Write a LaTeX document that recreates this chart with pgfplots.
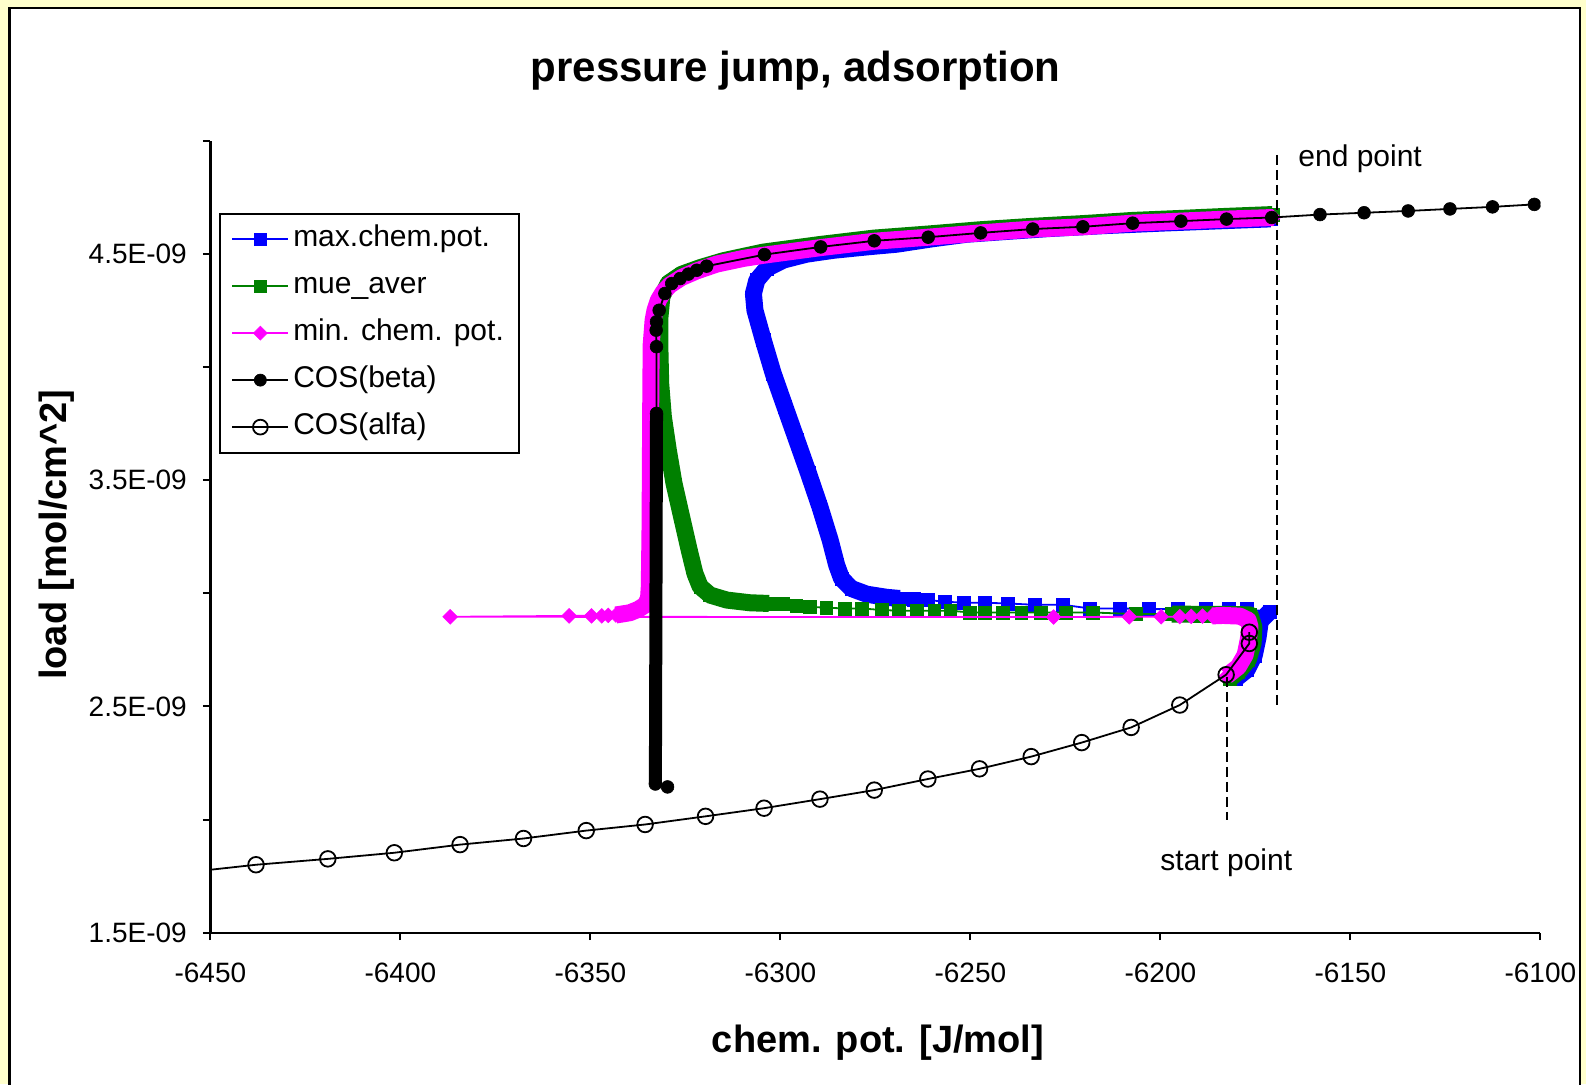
\documentclass[border=0pt]{standalone}
\usepackage{fontspec}
\setmainfont{Liberation Sans}
\usepackage{pgfplots}
\pgfplotsset{compat=1.18}
\definecolor{bgyellow}{HTML}{FFFFCC}
\definecolor{xlblue}{HTML}{0000FF}
\definecolor{xlgreen}{HTML}{008000}
\definecolor{xlmag}{HTML}{FF00FF}
\pgfplotsset{band/.style={line join=round, line cap=butt, forget plot}}
\begin{document}
\begin{tikzpicture}
\useasboundingbox (0,0) rectangle (793pt,-542pt);
\fill[bgyellow] (0,0) rectangle (793pt,-542pt);
\draw[line width=1.3pt, fill=white] (4.7pt,-3.9pt) rectangle (790pt,-560pt);
\begin{axis}[
  at={(105.2pt,-466.3pt)}, anchor=south west,
  scale only axis, width=665pt, height=395.9pt,
  xmin=-6450, xmax=-6100, ymin=1.5, ymax=5.0,
  axis lines*=left,
  axis line style={line width=1.1pt},
  tick align=outside,
  major tick length=3.8pt,
  tick style={line width=1pt, black},
  xtick={-6450,-6400,-6350,-6300,-6250,-6200,-6150,-6100},
  xticklabels={-6450,-6400,-6350,-6300,-6250,-6200,-6150,-6100},
  ytick={1.5,2.0,2.5,3.0,3.5,4.0,4.5,5.0},
  yticklabels={1.5E-09,,2.5E-09,,3.5E-09,,4.5E-09,},
  ticklabel style={font=\fontsize{14}{16}\selectfont, inner sep=0pt},
  xticklabel style={yshift=-11.2pt},
  yticklabel style={xshift=-7.8pt},
  clip=true, clip marker paths=true,
  legend style={
    at={(0.0068,0.9093)}, anchor=north west,
    draw=black, line width=1pt, fill=white,
    font=\fontsize{15}{18}\selectfont,
    inner xsep=5.5pt, inner ysep=1pt, row sep=0pt,
    nodes={inner xsep=2pt, inner ysep=4.5pt, text height=11pt, text depth=3.5pt},
  },
  legend cell align=left,
  legend image code/.code={\draw[mark repeat=2,mark phase=2,#1] plot coordinates {(0pt,0pt) (14pt,0pt) (28pt,0pt)};},
  legend image post style={every mark/.append style={scale=0.95}},
]
% ---------- max.chem.pot. (blue)
\addplot[xlblue, line width=8.5pt, band] coordinates {
(-6180.2,2.622) (-6177.2,2.662) (-6175.3,2.725) (-6174.3,2.805) (-6173.7,2.877) (-6171.3,2.918)};
\addplot[xlblue, line width=8.5pt, band] coordinates {
(-6268.6,2.977) (-6272.0,2.982) (-6277.3,2.996) (-6281.3,3.021) (-6283.9,3.065) (-6285.2,3.125)
(-6286.9,3.235) (-6289.6,3.382) (-6292.6,3.530) (-6295.7,3.677) (-6298.8,3.824) (-6301.9,3.972)
(-6304.5,4.119) (-6306.7,4.251) (-6307.1,4.325) (-6306.2,4.384) (-6303.6,4.436) (-6299.2,4.473)
(-6293.1,4.499) (-6286.1,4.516) (-6277.3,4.531) (-6269.4,4.543) (-6260,4.567) (-6251.0,4.587)
(-6240,4.600) (-6229.5,4.612) (-6215,4.625) (-6200,4.636) (-6185,4.646) (-6171,4.655)};
\addplot[xlblue, line width=0.9pt, mark=square*, mark size=3.3pt,
  mark options={solid, fill=xlblue, draw=xlblue, line width=0.3pt}] coordinates {
(-6180.2,2.622) (-6177.2,2.662) (-6175.3,2.725) (-6174.3,2.805) (-6173.7,2.877) (-6171.3,2.918)
(-6177.2,2.929) (-6182.1,2.929) (-6188.1,2.930) (-6195.4,2.930) (-6203.1,2.930) (-6210.6,2.933)
(-6218.5,2.933) (-6225.7,2.949) (-6233.0,2.949) (-6240.2,2.955) (-6246.2,2.958) (-6251.7,2.958)
(-6256.7,2.963) (-6261.3,2.970) (-6265.0,2.973) (-6268.6,2.977)
(-6272.0,2.982) (-6277.3,2.996) (-6281.3,3.021) (-6283.9,3.065) (-6285.2,3.125)
(-6286.9,3.235) (-6289.6,3.382) (-6292.6,3.530) (-6295.7,3.677) (-6298.8,3.824) (-6301.9,3.972)
(-6304.5,4.119) (-6306.7,4.251) (-6307.1,4.325) (-6306.2,4.384) (-6303.6,4.436) (-6299.2,4.473)
(-6293.1,4.499) (-6286.1,4.516) (-6277.3,4.531) (-6269.4,4.543) (-6260,4.567) (-6251.0,4.587)
(-6240,4.600) (-6229.5,4.612) (-6215,4.625) (-6200,4.636) (-6185,4.646) (-6171,4.655)};
\addlegendentry{max.chem.pot.}
% ---------- mue_aver (green)
\addplot[xlgreen, line width=8.5pt, band] coordinates {
(-6181.7,2.623) (-6179.5,2.652) (-6176.9,2.705) (-6175.6,2.779) (-6175.4,2.851) (-6176.4,2.904)
(-6180,2.906) (-6185,2.907) (-6190,2.907) (-6197,2.908)};
\addplot[xlgreen, line width=8.5pt, band] coordinates {
(-6303.0,2.955) (-6308.0,2.958) (-6314.1,2.970) (-6318.5,2.992) (-6321.1,3.029) (-6322.5,3.088)
(-6324.0,3.191) (-6326.0,3.338) (-6328.0,3.486) (-6329.5,3.633) (-6330.8,3.780) (-6331.5,3.927)
(-6331.7,4.075) (-6331.7,4.22) (-6331.2,4.31) (-6329.5,4.37) (-6326,4.41) (-6321,4.44)
(-6315,4.47) (-6304.5,4.508) (-6289.4,4.542) (-6275.3,4.570) (-6261.1,4.588) (-6247.3,4.607)
(-6233.6,4.622) (-6220.4,4.634) (-6207.3,4.648) (-6194.6,4.657) (-6182.6,4.666) (-6170.5,4.674)};
\addplot[xlgreen, line width=0.9pt, mark=square*, mark size=3.2pt,
  mark options={solid, fill=xlgreen, draw=xlgreen, line width=0.3pt}] coordinates {
(-6181.7,2.623) (-6179.5,2.652) (-6176.9,2.705) (-6175.6,2.779) (-6175.4,2.851) (-6176.4,2.904)
(-6180,2.906) (-6185,2.907) (-6190,2.907) (-6197,2.908) (-6206.4,2.908) (-6217.8,2.915)
(-6224.9,2.915) (-6231.4,2.915) (-6236.6,2.915) (-6241.4,2.915) (-6246.2,2.915) (-6250.1,2.915)
(-6255.3,2.923) (-6259.5,2.923) (-6264.2,2.923) (-6268.8,2.923) (-6273.4,2.926) (-6278.5,2.933)
(-6283.1,2.933) (-6287.9,2.936) (-6292.2,2.940) (-6295.8,2.943) (-6299.4,2.952) (-6303.0,2.955)
(-6308.0,2.958) (-6314.1,2.970) (-6318.5,2.992) (-6321.1,3.029) (-6322.5,3.088)
(-6324.0,3.191) (-6326.0,3.338) (-6328.0,3.486) (-6329.5,3.633) (-6330.8,3.780) (-6331.5,3.927)
(-6331.7,4.075) (-6331.7,4.22) (-6331.2,4.31) (-6329.5,4.37) (-6326,4.41) (-6321,4.44)
(-6315,4.47) (-6304.5,4.508) (-6289.4,4.542) (-6275.3,4.570) (-6261.1,4.588) (-6247.3,4.607)
(-6233.6,4.622) (-6220.4,4.634) (-6207.3,4.648) (-6194.6,4.657) (-6182.6,4.666) (-6170.5,4.674)};
\addlegendentry{mue\_aver}
% ---------- min. chem. pot. (magenta)
\addplot[xlmag, line width=8.5pt, band] coordinates {
(-6182.6,2.634) (-6179.5,2.675) (-6177.7,2.727) (-6176.9,2.793) (-6176.4,2.851) (-6176.9,2.881)
(-6179.1,2.899) (-6183.5,2.902) (-6186.4,2.900)};
\addplot[xlmag, line width=8.5pt, band] coordinates {
(-6343.3,2.904) (-6341.8,2.908) (-6339.6,2.914) (-6337.4,2.929) (-6335.6,2.948) (-6334.7,2.977)
(-6334.5,3.029) (-6334.3,3.3) (-6334.2,3.6) (-6334.1,3.9) (-6334.0,4.10) (-6333.5,4.207)
(-6333.0,4.251) (-6332.1,4.296) (-6330.8,4.332) (-6329.1,4.362) (-6326.0,4.396) (-6322.0,4.425)
(-6316.8,4.455) (-6309.8,4.480) (-6304.5,4.494) (-6289.4,4.528) (-6275.3,4.556) (-6261.1,4.574)
(-6247.3,4.593) (-6233.6,4.610) (-6220.4,4.620) (-6207.3,4.636) (-6194.6,4.645) (-6182.6,4.654)
(-6170.3,4.661)};
\addplot[xlmag, line width=0.9pt, mark=square*, mark size=2.6pt,
  mark options={solid, rotate=45, fill=xlmag, draw=xlmag, line width=0.3pt}] coordinates {
(-6182.6,2.634) (-6179.5,2.675) (-6177.7,2.727) (-6176.9,2.793) (-6176.4,2.851) (-6176.9,2.881)
(-6179.1,2.899) (-6183.5,2.902) (-6186.4,2.900) (-6188.9,2.899) (-6191.9,2.898) (-6194.9,2.897)
(-6199.8,2.896) (-6208.2,2.896) (-6228.1,2.895) (-6386.9,2.896) (-6355.6,2.900) (-6349.7,2.900)
(-6347.0,2.900) (-6345.3,2.902) (-6343.3,2.904) (-6341.8,2.908) (-6339.6,2.914) (-6337.4,2.929)
(-6335.6,2.948) (-6334.7,2.977) (-6334.5,3.029) (-6334.3,3.3) (-6334.2,3.6) (-6334.1,3.9)
(-6334.0,4.10) (-6333.5,4.207) (-6333.0,4.251) (-6332.1,4.296) (-6330.8,4.332) (-6329.1,4.362)
(-6326.0,4.396) (-6322.0,4.425) (-6316.8,4.455) (-6309.8,4.480) (-6304.5,4.494) (-6289.4,4.528)
(-6275.3,4.556) (-6261.1,4.574) (-6247.3,4.593) (-6233.6,4.610) (-6220.4,4.620) (-6207.3,4.636)
(-6194.6,4.645) (-6182.6,4.654) (-6170.3,4.661)};
\addlegendentry{min. chem. pot.}
% ---------- COS(beta)
\addplot[black, line width=6.5pt, band] coordinates {(-6332.6,3.795) (-6332.9,2.157)};
\addplot[black, line width=0.9pt, mark=*, mark size=3.2pt,
  mark options={solid, fill=black, line width=0.3pt}] coordinates {
(-6101.6,4.719) (-6112.6,4.708) (-6123.8,4.699) (-6134.8,4.690) (-6146.4,4.682) (-6158.0,4.674)
(-6170.7,4.661) (-6182.6,4.654) (-6194.6,4.645) (-6207.3,4.636) (-6220.4,4.620) (-6233.6,4.610)
(-6247.3,4.593) (-6261.1,4.574) (-6275.3,4.558) (-6289.4,4.531) (-6304.2,4.497) (-6319.4,4.446)
(-6322.0,4.428) (-6324.2,4.411) (-6326.4,4.391) (-6328.6,4.369) (-6330.4,4.325) (-6331.9,4.251)
(-6332.6,4.200) (-6332.7,4.163) (-6332.6,4.090) (-6332.6,3.795) (-6332.9,2.157) (-6329.7,2.144)};
\addlegendentry{COS(beta)}
% ---------- COS(alfa)
\addplot[black, line width=0.9pt, mark=o, mark size=3.9pt,
  mark options={solid, line width=0.9pt}] coordinates {
(-6457,1.765) (-6438.0,1.800) (-6419.1,1.826) (-6401.6,1.853) (-6384.3,1.889) (-6367.6,1.916)
(-6351.1,1.951) (-6335.6,1.978) (-6319.7,2.014) (-6304.3,2.050) (-6289.6,2.090) (-6275.3,2.130)
(-6261.2,2.179) (-6247.6,2.224) (-6234.0,2.278) (-6220.7,2.340) (-6207.7,2.407) (-6194.9,2.506)
(-6182.7,2.640) (-6176.6,2.778) (-6176.6,2.828)};
\addlegendentry{COS(alfa)}
% ---------- dashed markers
\addplot[black, line width=1pt, dash pattern=on 5pt off 2.5pt, forget plot] coordinates {(-6169.4,4.938) (-6169.4,2.50)};
\addplot[black, line width=1pt, dash pattern=on 5pt off 2.5pt, forget plot] coordinates {(-6182.6,2.63) (-6182.6,2.00)};
\end{axis}
\node[font=\bfseries\fontsize{21}{25}\selectfont, anchor=base] at (397.8pt,-40.5pt) {pressure jump, adsorption};
\node[font=\bfseries\fontsize{19}{23}\selectfont, anchor=base] at (439pt,-526pt) {chem. pot. [J/mol]};
\node[font=\bfseries\fontsize{19}{23}\selectfont, anchor=base, rotate=90] at (33.4pt,-267.3pt) {load [mol/cm\textasciicircum 2]};
\node[font=\fontsize{15}{18}\selectfont, anchor=base west, inner sep=0pt] at (649pt,-83pt) {end point};
\node[font=\fontsize{15}{18}\selectfont, anchor=base west, inner sep=0pt] at (580pt,-435.3pt) {start point};
\end{tikzpicture}
\end{document}
